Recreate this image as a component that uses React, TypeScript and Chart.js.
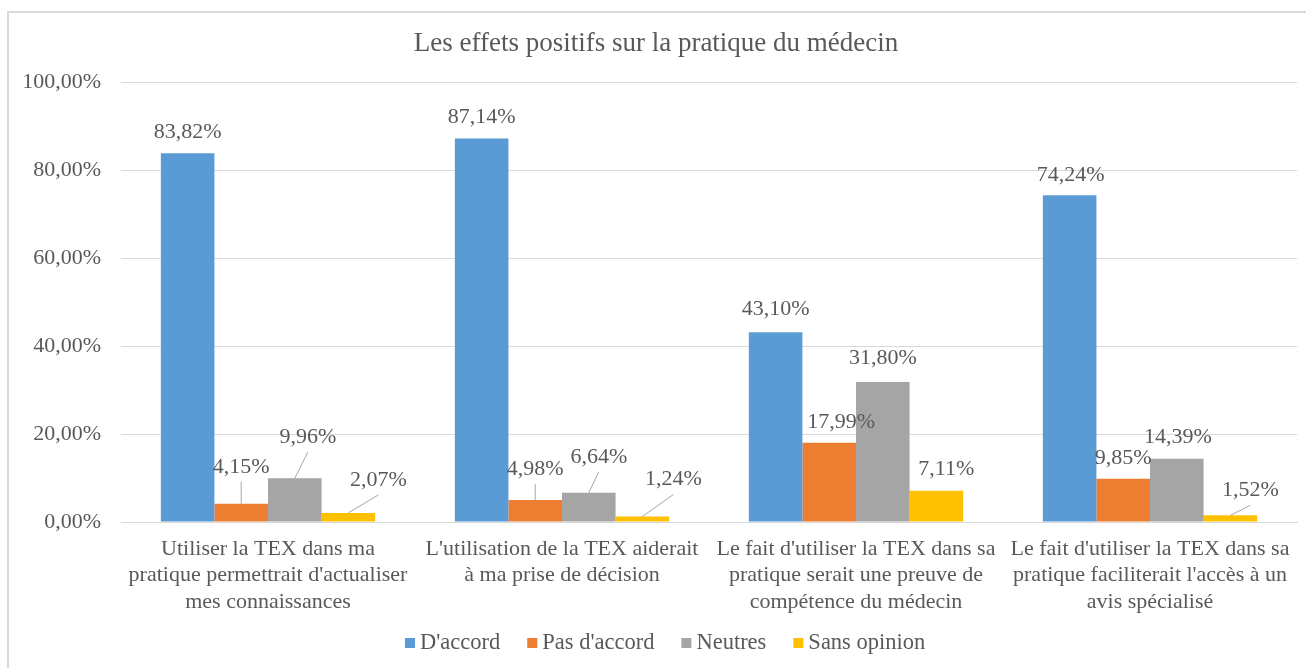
import React, { useEffect, useRef } from "react";
import { Chart, registerables } from "chart.js";

Chart.register(...registerables);

const TITLE = "Les effets positifs sur la pratique du médecin";
const categories: string[][] = [
  ["Utiliser la TEX dans ma", "pratique permettrait d'actualiser", "mes connaissances"],
  ["L'utilisation de la TEX aiderait", "à ma prise de décision"],
  ["Le fait d'utiliser la TEX dans sa", "pratique serait une preuve de", "compétence du médecin"],
  ["Le fait d'utiliser la TEX dans sa", "pratique faciliterait l'accès à un", "avis spécialisé"],
];
const seriesNames = ["D'accord", "Pas d'accord", "Neutres", "Sans opinion"];
const dAccord = [83.82, 87.14, 43.1, 74.24];
const pasDAccord = [4.15, 4.98, 17.99, 9.85];
const neutres = [9.96, 6.64, 31.8, 14.39];
const sansOpinion = [2.07, 1.24, 7.11, 1.52];
const yTicks = [0, 20, 40, 60, 80, 100];

const colors = ["#5B9BD5", "#ED7D31", "#A5A5A5", "#FFC000"];
const FONT = "'Liberation Serif', 'Times New Roman', serif";
const TEXT = "#595959";

// label placement: [dx, dy, leader] relative to bar top centre
const labelPlacement: [number, number, boolean][][] = [
  [[0, -21, false], [0, -21, false], [0, -23, false], [1, -20, false]],
  [[0, -37, true], [0, -31, true], [12, -21, false], [0, -20, false]],
  [[13, -41, true], [10, -36, true], [0, -24, false], [1, -21, false]],
  [[30, -33, true], [31, -37, true], [10, -21, false], [20, -25, true]],
];

const fmt = (v: number) => v.toFixed(2).replace(".", ",") + "%";

const customPlugin = {
  id: "custom",
  afterDatasetsDraw(chart: any) {
    const ctx = chart.ctx;
    ctx.save();
    ctx.font = `22px ${FONT}`;
    ctx.fillStyle = TEXT;
    ctx.textAlign = "center";
    ctx.textBaseline = "middle";
    chart.data.datasets.forEach((ds: any, di: number) => {
      const meta = chart.getDatasetMeta(di);
      meta.data.forEach((bar: any, i: number) => {
        const [dx, dy, leader] = labelPlacement[di][i];
        const lx = bar.x + dx;
        const ly = bar.y + dy;
        if (leader) {
          ctx.strokeStyle = "#A6A6A6";
          ctx.lineWidth = 1;
          ctx.beginPath();
          ctx.moveTo(lx, ly + 15);
          ctx.lineTo(bar.x, bar.y);
          ctx.stroke();
        }
        ctx.fillText(fmt(ds.data[i]), lx, ly);
      });
    });
    // category labels
    const xs = chart.scales.x;
    const base = chart.chartArea.bottom + 27;
    categories.forEach((lines, i) => {
      const cx = xs.getPixelForValue(i);
      lines.forEach((ln, li) => {
        ctx.fillText(ln, cx, base + li * 26.5);
      });
    });
    // title
    ctx.font = `27px ${FONT}`;
    ctx.fillText(TITLE, 656, 44);
    // legend
    ctx.font = `22.5px ${FONT}`;
    ctx.textAlign = "left";
    let x = 405;
    const y = 643;
    seriesNames.forEach((name, i) => {
      ctx.fillStyle = colors[i];
      ctx.fillRect(x, y - 5, 10, 10);
      ctx.fillStyle = TEXT;
      ctx.fillText(name, x + 15, y);
      x += 15 + ctx.measureText(name).width + 27;
    });
    ctx.restore();
  },
};

export default function App() {
  const ref = useRef<HTMLCanvasElement>(null);
  useEffect(() => {
    const chart = new Chart(ref.current!, {
      type: "bar",
      data: {
        labels: categories.map((c) => c.join(" ")),
        datasets: [dAccord, pasDAccord, neutres, sansOpinion].map((d, i) => ({
          label: seriesNames[i],
          data: d,
          backgroundColor: colors[i],
          barPercentage: 1,
          categoryPercentage: 0.729,
        })),
      },
      options: {
        animation: false,
        responsive: false,
        maintainAspectRatio: false,
        layout: { padding: { top: 82, right: 9, left: 0, bottom: 0 } },
        plugins: { legend: { display: false }, title: { display: false }, tooltip: { enabled: false } },
        scales: {
          x: {
            grid: { display: false, drawTicks: false },
            border: { color: "#D9D9D9", width: 1 },
            ticks: { display: false },
            afterFit: (s: any) => {
              s.height = 146;
            },
          },
          y: {
            min: 0,
            max: 100,
            afterBuildTicks: (s: any) => {
              s.ticks = yTicks.map((v) => ({ value: v }));
            },
            grid: { color: "#D9D9D9", drawTicks: false },
            border: { display: false },
            ticks: {
              color: TEXT,
              font: { family: FONT, size: 22 },
              padding: 20,
              callback: (v: any) => fmt(Number(v)),
            },
            afterFit: (s: any) => {
              s.width = 121;
            },
          },
        },
      },
      plugins: [customPlugin],
    });
    return () => chart.destroy();
  }, []);
  return (
    <div style={{ position: "fixed", left: 0, top: 0, width: 1306, height: 668, background: "#fff", overflow: "hidden" }}>
      <div
        style={{
          position: "absolute",
          left: 7,
          top: 11,
          width: 1320,
          height: 680,
          border: "2px solid #D9D9D9",
          boxSizing: "border-box",
        }}
      />
      <canvas ref={ref} width={1306} height={668} style={{ position: "absolute", left: 0, top: 0 }} />
    </div>
  );
}
